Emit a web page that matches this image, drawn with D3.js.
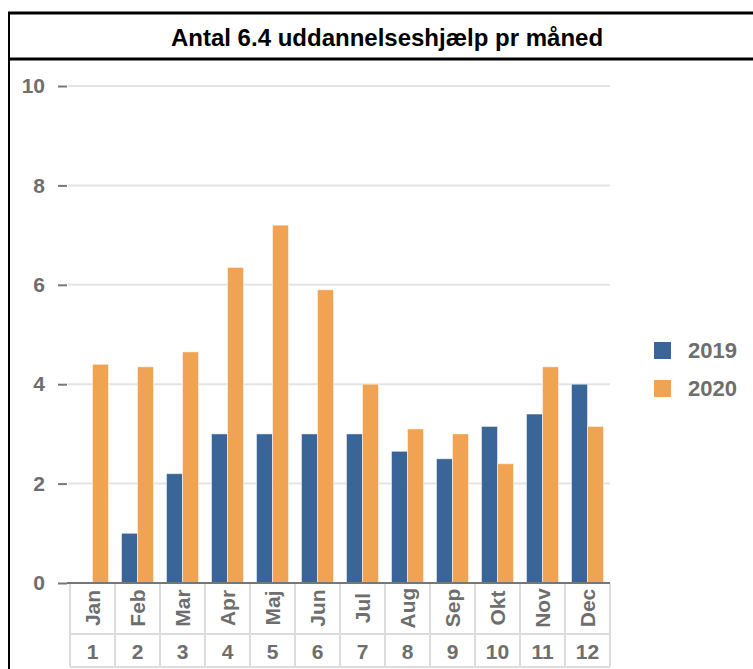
<!DOCTYPE html>
<html>
<head>
<meta charset="utf-8">
<script src="https://cdn.jsdelivr.net/npm/d3@7"></script>
<style>
  body { margin: 0; background: #fff; }
  text { font-family: "Liberation Sans", Arial, sans-serif; }
</style>
</head>
<body>
<div id="chart"></div>
<script>
var months = ["Jan", "Feb", "Mar", "Apr", "Maj", "Jun", "Jul", "Aug", "Sep", "Okt", "Nov", "Dec"];
var monthNums = ["1", "2", "3", "4", "5", "6", "7", "8", "9", "10", "11", "12"];
var years = ["2019", "2020"];
var values2019 = [0, 1.0, 2.2, 3.0, 3.0, 3.0, 3.0, 2.65, 2.5, 3.15, 3.4, 4.0];
var values2020 = [4.4, 4.35, 4.65, 6.35, 7.2, 5.9, 4.0, 3.1, 3.0, 2.4, 4.35, 3.15];
var yTicks = [0, 2, 4, 6, 8, 10];
var colors = ["#3a6598", "#f0a352"];

var width = 753, height = 669;
var plotLeft = 70, plotRight = 610, plotTop = 86, plotBottom = 583;
var greyText = "#6e6e6e";

var svg = d3.select("#chart").append("svg")
    .attr("width", width)
    .attr("height", height);

// title box
svg.append("line")
    .attr("x1", 9).attr("x2", 9).attr("y1", 12).attr("y2", height)
    .attr("stroke", "#000").attr("stroke-width", 2);
svg.append("line")
    .attr("x1", 8).attr("x2", width).attr("y1", 13).attr("y2", 13)
    .attr("stroke", "#000").attr("stroke-width", 3);
svg.append("line")
    .attr("x1", 8).attr("x2", width).attr("y1", 59).attr("y2", 59)
    .attr("stroke", "#000").attr("stroke-width", 3);
svg.append("text")
    .attr("x", 387).attr("y", 46)
    .attr("text-anchor", "middle")
    .attr("font-size", 24)
    .attr("font-weight", 700)
    .attr("fill", "#000")
    .text("Antal 6.4 uddannelseshjælp pr måned");

var y = d3.scaleLinear().domain([0, 10]).range([plotBottom, plotTop]);
var x = d3.scaleBand().domain(months).range([plotLeft, plotRight]);
var xs = d3.scaleBand().domain(years).range([6.5, x.bandwidth() - 6.5]);

// gridlines
svg.append("g").selectAll("line")
    .data(yTicks.filter(function(d){ return d > 0 }))
    .enter().append("line")
    .attr("x1", 68).attr("x2", plotRight)
    .attr("y1", function(d){ return y(d) })
    .attr("y2", function(d){ return y(d) })
    .attr("stroke", "#e4e4e4")
    .attr("stroke-width", 2);

// y axis
var yAxis = svg.append("g")
    .attr("transform", "translate(67,0)")
    .call(d3.axisLeft(y).tickValues(yTicks).tickSize(9).tickPadding(13));
yAxis.select(".domain").remove();
yAxis.selectAll(".tick line").attr("stroke", "#777").attr("stroke-width", 2);
yAxis.selectAll(".tick text")
    .attr("font-family", "Liberation Sans, Arial, sans-serif")
    .attr("font-size", 21)
    .attr("font-weight", 700)
    .attr("fill", greyText);

// bars
var rows = months.map(function(m, i){
  return { month: m, vals: [values2019[i], values2020[i]] };
});
var groups = svg.append("g").selectAll("g")
    .data(rows)
    .enter().append("g")
    .attr("transform", function(d){ return "translate(" + x(d.month) + ",0)" });
groups.selectAll("rect")
    .data(function(d){ return d.vals.map(function(v, j){ return { year: years[j], v: v, j: j } }) })
    .enter().append("rect")
    .attr("x", function(d){ return xs(d.year) })
    .attr("width", xs.bandwidth())
    .attr("y", function(d){ return y(d.v) })
    .attr("height", function(d){ return y(0) - y(d.v) })
    .attr("fill", function(d){ return colors[d.j] })
    .attr("stroke", "#fff")
    .attr("stroke-opacity", 0.5)
    .attr("stroke-width", 1);

// category table
var rowTop = plotBottom, rowMid = 634, rowBot = 667;
var table = svg.append("g");
table.selectAll("line.v")
    .data(months.concat(["end"]))
    .enter().append("line")
    .attr("class", "v")
    .attr("x1", function(d, i){ return plotLeft + i * x.step() })
    .attr("x2", function(d, i){ return plotLeft + i * x.step() })
    .attr("y1", rowTop).attr("y2", rowBot)
    .attr("stroke", "#dcdcdc").attr("stroke-width", 2);
[rowMid, rowBot].forEach(function(yy){
  table.append("line")
    .attr("x1", plotLeft).attr("x2", plotRight)
    .attr("y1", yy).attr("y2", yy)
    .attr("stroke", "#dcdcdc").attr("stroke-width", 2);
});
table.selectAll("text.m")
    .data(months)
    .enter().append("text")
    .attr("class", "m")
    .attr("transform", function(d){
      return "translate(" + (x(d) + x.bandwidth() / 2 + 7.5) + "," + 608 + ") rotate(-90)";
    })
    .attr("text-anchor", "middle")
    .attr("font-size", 21)
    .attr("font-weight", 700)
    .attr("fill", greyText)
    .text(function(d){ return d });
table.selectAll("text.n")
    .data(monthNums)
    .enter().append("text")
    .attr("class", "n")
    .attr("x", function(d, i){ return x(months[i]) + x.bandwidth() / 2 })
    .attr("y", 659)
    .attr("text-anchor", "middle")
    .attr("font-size", 21)
    .attr("font-weight", 700)
    .attr("fill", greyText)
    .text(function(d){ return d });

// baseline
svg.append("line")
    .attr("x1", 67).attr("x2", plotRight)
    .attr("y1", y(0)).attr("y2", y(0))
    .attr("stroke", "#777").attr("stroke-width", 2);

// legend
var legend = svg.append("g").attr("transform", "translate(654,342)");
legend.selectAll("rect")
    .data(years)
    .enter().append("rect")
    .attr("x", 0)
    .attr("y", function(d, i){ return i * 38 })
    .attr("width", 17).attr("height", 17)
    .attr("fill", function(d, i){ return colors[i] });
legend.selectAll("text")
    .data(years)
    .enter().append("text")
    .attr("x", 34)
    .attr("y", function(d, i){ return i * 38 + 16 })
    .attr("font-size", 22)
    .attr("font-weight", 700)
    .attr("fill", greyText)
    .text(function(d){ return d });
</script>
</body>
</html>
